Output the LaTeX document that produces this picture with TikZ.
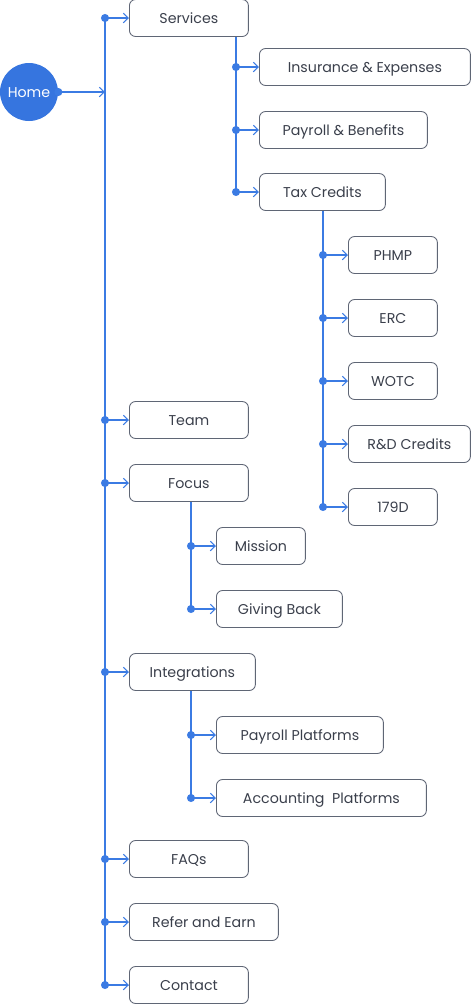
\documentclass[tikz,border=0pt]{standalone}
\usepackage{fontspec}
\setmainfont{Poppins}
\definecolor{linkblue}{HTML}{3B7BE3}
\definecolor{homeblue}{HTML}{3675DF}
\definecolor{boxgray}{HTML}{5F6675}
\definecolor{txtgray}{HTML}{3A3F4B}
\usepackage{tikz}
\usetikzlibrary{arrows.meta, positioning}

\begin{document}
\begin{tikzpicture}[x=0.02cm, y=-0.02cm,
    page/.style={draw=boxgray, line width=0.5pt, rounded corners=3.5pt,
      minimum height=0.74cm, anchor=west, text=txtgray,
      text height=6.4pt, text depth=0pt,
      font=\fontsize{8.1}{10}\selectfont},
    trunk/.style={linkblue, line width=0.8pt},
    link/.style={linkblue, line width=0.6pt,
      -{Straight Barb[length=2.8pt, width=5.5pt]}},
    knot/.style={fill=linkblue}]
  \useasboundingbox (0,0) rectangle (475,1005);
  % Home
  \node[circle, fill=homeblue, minimum size=1.16cm, inner sep=0pt, text=white,
    text height=6.4pt, text depth=0pt,
    font=\fontsize{8.1}{10}\selectfont] (home) at (29,92) {Home};
  % first level pages
  \node[page, minimum width=2.38cm] (serv)  at (129,18)  {Services};
  \node[page, minimum width=2.38cm] (team)  at (129,420) {Team};
  \node[page, minimum width=2.38cm] (focus) at (129,483) {Focus};
  \node[page, minimum width=2.52cm] (integ) at (129,672) {Integrations};
  \node[page, minimum width=2.38cm] (faqs)  at (129,859) {FAQs};
  \node[page, minimum width=2.98cm] (refer) at (129,922) {Refer and Earn};
  \node[page, minimum width=2.38cm] (cont)  at (129,985) {Contact};
  % services pages
  \node[page, minimum width=4.22cm] (insur) at (259,67)  {Insurance \& Expenses};
  \node[page, minimum width=3.36cm] (payb)  at (259,130) {Payroll \& Benefits};
  \node[page, minimum width=2.52cm] (tax)   at (259,192) {Tax Credits};
  % tax credit pages
  \node[page, minimum width=1.78cm] (phmp) at (348,255) {PHMP};
  \node[page, minimum width=1.78cm] (erc)  at (348,318) {ERC};
  \node[page, minimum width=1.78cm] (wotc) at (348,381) {WOTC};
  \node[page, minimum width=2.44cm] (rnd)  at (348,444) {R\&D Credits};
  \node[page, minimum width=1.78cm] (d179) at (348,507) {179D};
  % focus pages
  \node[page, minimum width=1.78cm] (miss) at (216,546) {Mission};
  \node[page, minimum width=2.52cm] (give) at (216,609) {Giving Back};
  % integration pages
  \node[page, minimum width=3.34cm] (payp) at (216,735) {Payroll Platforms};
  \node[page, minimum width=4.20cm] (accp) at (216,798) {Accounting\ \ Platforms};

  % main trunk
  \coordinate (t-serv) at (105,18);
  \coordinate (t-home) at (105,92);
  \coordinate (t-cont) at (105,985);
  \draw[trunk] (t-serv) -- (t-cont);
  \fill[knot] (home.east) circle (2.3pt);
  \draw[link] (home.east) -- (t-home);
  \foreach \p in {serv, team, focus, integ, faqs, refer, cont} {
    \coordinate (t-\p) at (105,0 |- \p.west);
    \fill[knot] (t-\p) circle (2.3pt);
    \draw[link] (t-\p) -- (\p.west);
  }
  % services branch
  \coordinate (s-tax) at (236,192);
  \draw[trunk] (serv.south -| s-tax) -- (s-tax);
  \foreach \p in {insur, payb, tax} {
    \coordinate (s-\p) at (236,0 |- \p.west);
    \fill[knot] (s-\p) circle (2.3pt);
    \draw[link] (s-\p) -- (\p.west);
  }
  % tax credits branch
  \coordinate (x-d179) at (323,507);
  \draw[trunk] (tax.south -| x-d179) -- (x-d179);
  \foreach \p in {phmp, erc, wotc, rnd, d179} {
    \coordinate (x-\p) at (323,0 |- \p.west);
    \fill[knot] (x-\p) circle (2.3pt);
    \draw[link] (x-\p) -- (\p.west);
  }
  % focus branch
  \coordinate (f-give) at (191,609);
  \draw[trunk] (focus.south -| f-give) -- (f-give);
  \foreach \p in {miss, give} {
    \coordinate (f-\p) at (191,0 |- \p.west);
    \fill[knot] (f-\p) circle (2.3pt);
    \draw[link] (f-\p) -- (\p.west);
  }
  % integrations branch
  \coordinate (i-accp) at (191,798);
  \draw[trunk] (integ.south -| i-accp) -- (i-accp);
  \foreach \p in {payp, accp} {
    \coordinate (i-\p) at (191,0 |- \p.west);
    \fill[knot] (i-\p) circle (2.3pt);
    \draw[link] (i-\p) -- (\p.west);
  }
\end{tikzpicture}
\end{document}
